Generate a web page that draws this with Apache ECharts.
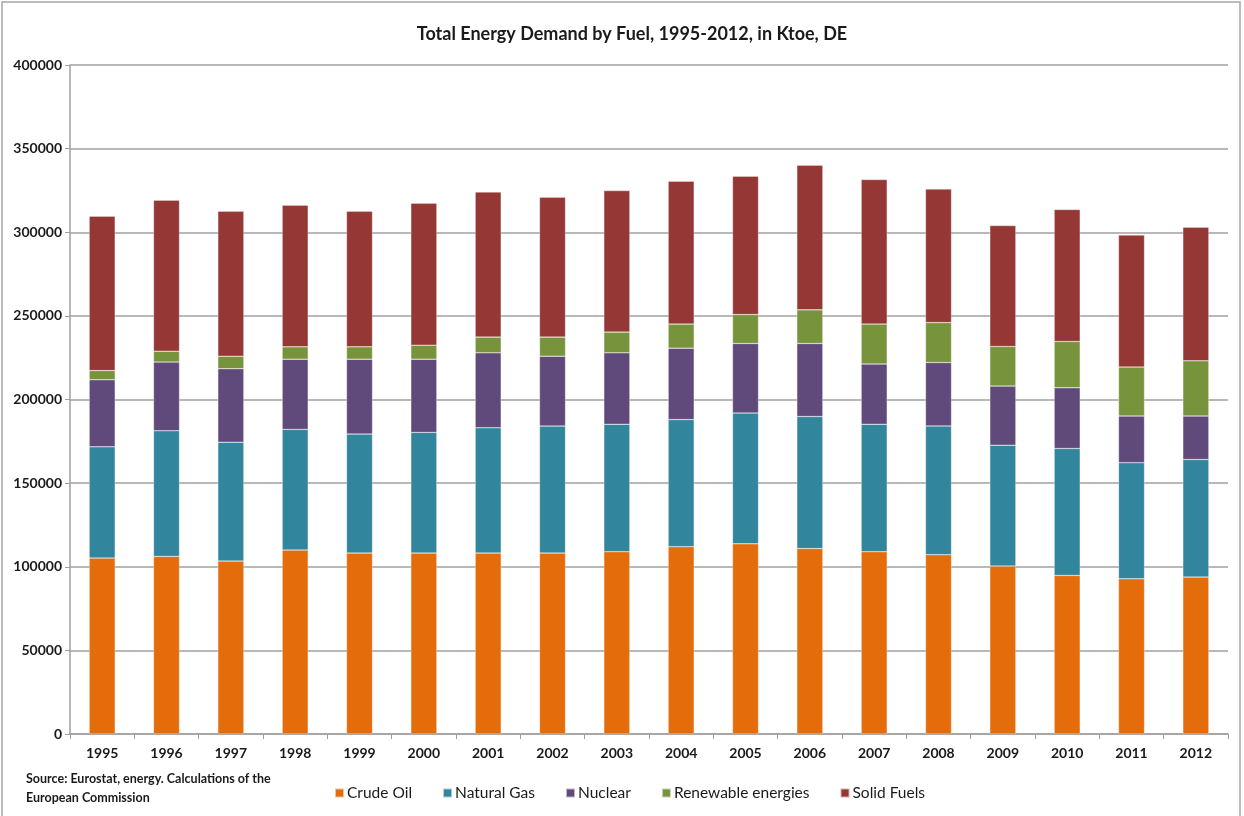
<!DOCTYPE html>
<html>
<head>
<meta charset="utf-8">
<title>Total Energy Demand by Fuel, DE</title>
<script src="https://cdn.jsdelivr.net/npm/echarts@6/dist/echarts.min.js"></script>
<style>
  html, body { margin: 0; padding: 0; background: #fff; }
  #chart { width: 1244px; height: 816px; }
</style>
</head>
<body>
<div id="chart"></div>
<script>
// data, ktoe
const years = ["1995", "1996", "1997", "1998", "1999", "2000", "2001", "2002", "2003",
  "2004", "2005", "2006", "2007", "2008", "2009", "2010", "2011", "2012"];
const crudeOil = [105200, 106200, 103400, 110000, 108200, 108200, 108200, 108200, 109000,
  112000, 113700, 110900, 109000, 107200, 100400, 94800, 92800, 93800];
const naturalGas = [66500, 75100, 71100, 72100, 71100, 72100, 74900, 75900, 76200,
  76000, 78200, 78900, 76200, 77000, 72300, 75900, 69400, 70300];
const nuclear = [40100, 41100, 43900, 42000, 44800, 43800, 44800, 41800, 42700,
  42700, 41600, 43700, 36000, 37900, 35300, 36300, 27900, 26000];
const renewables = [5500, 6500, 7500, 7400, 7400, 8400, 9400, 11400, 12400,
  14400, 17300, 20100, 23900, 23900, 23700, 27700, 29300, 33000];
const solidFuels = [92300, 90300, 86700, 84700, 81100, 84900, 86700, 83700, 84600,
  85400, 82700, 86500, 86400, 79800, 72300, 78900, 78900, 79900];
const seriesNames = ["Crude Oil", "Natural Gas", "Nuclear", "Renewable energies", "Solid Fuels"];
const seriesColors = ["#E46C0A", "#31859C", "#604A7B", "#77933C", "#953735"];

const fontFamily = "Lato, 'Open Sans', sans-serif";
const chart = echarts.init(document.getElementById("chart"));

const seriesData = [crudeOil, naturalGas, nuclear, renewables, solidFuels];
const series = seriesData.map(function (values, i) {
  return {
    name: seriesNames[i],
    type: "bar",
    stack: "total",
    barWidth: 26,
    data: values,
    itemStyle: { color: seriesColors[i], borderColor: "rgba(255,255,255,0.6)", borderWidth: 0.5 }
  };
});

chart.setOption({
  animation: false,
  textStyle: { fontFamily: fontFamily },
  title: {
    text: "Total Energy Demand by Fuel, 1995-2012, in Ktoe, DE",
    left: 627,
    textAlign: "center",
    top: 20,
    textStyle: { fontFamily: fontFamily, fontSize: 18, fontWeight: "bold", color: "#1a1a1a" }
  },
  graphic: [
    {
      type: "rect",
      shape: { x: 2, y: 2, width: 1238, height: 830 },
      style: { fill: "none", stroke: "#a6a6a6", lineWidth: 1.5 },
      silent: true
    },
    {
      type: "text",
      left: 26,
      top: 769,
      style: {
        text: "Source: Eurostat, energy. Calculations of the\nEuropean Commission",
        fontFamily: fontFamily,
        fontSize: 12.5,
        fontWeight: "bold",
        lineHeight: 19,
        fill: "#1a1a1a"
      }
    }
  ],
  legend: {
    left: 329,
    top: 780,
    itemWidth: 9,
    itemHeight: 9,
    itemGap: 30,
    icon: "rect",
    textStyle: { fontFamily: fontFamily, fontSize: 15.5, color: "#1a1a1a", padding: [0, 0, 0, -2] },
    data: seriesNames
  },
  grid: { left: 70, right: 16, top: 65, bottom: 82, containLabel: false },
  xAxis: {
    type: "category",
    data: years,
    axisLine: { lineStyle: { color: "#a0a0a0", width: 1.5 } },
    axisTick: { show: true, alignWithLabel: false, length: 5, lineStyle: { color: "#a0a0a0" } },
    axisLabel: { fontFamily: fontFamily, fontSize: 14, fontWeight: "bold", color: "#1a1a1a", margin: 12 }
  },
  yAxis: {
    type: "value",
    min: 0,
    max: 400000,
    interval: 50000,
    axisLine: { show: true, lineStyle: { color: "#a0a0a0", width: 1.5 } },
    axisTick: { show: true, inside: false, length: 5, lineStyle: { color: "#a0a0a0" } },
    splitLine: { lineStyle: { color: "#a0a0a0", width: 1.5 } },
    axisLabel: {
      fontFamily: fontFamily, fontSize: 14, fontWeight: "bold", color: "#1a1a1a", margin: 8,
      formatter: function (v) { return String(v); }
    }
  },
  series: series
});
</script>
</body>
</html>
